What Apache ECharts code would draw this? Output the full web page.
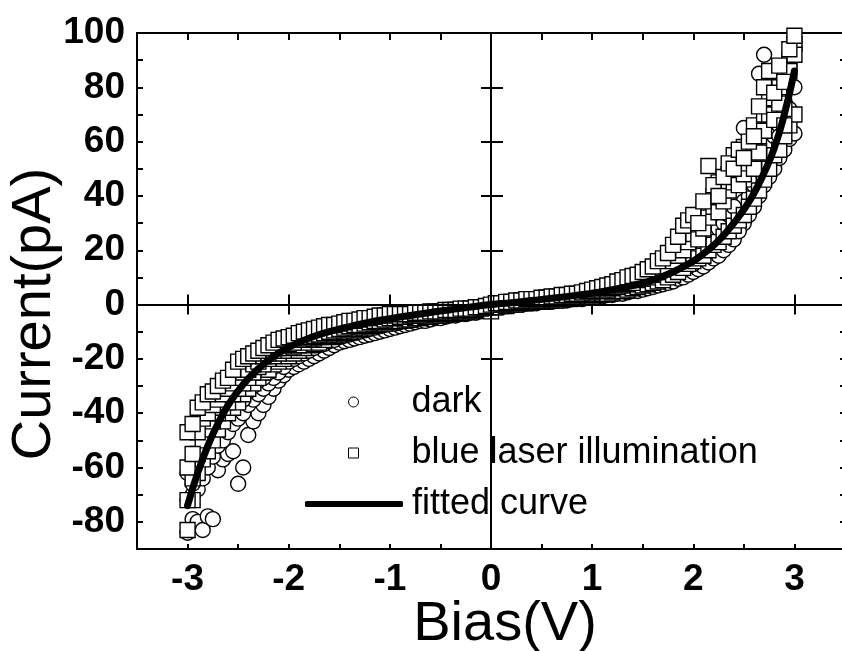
<!DOCTYPE html>
<html>
<head>
<meta charset="utf-8">
<script src="https://cdn.jsdelivr.net/npm/echarts@6/dist/echarts.min.js"></script>
<style>
html,body{margin:0;padding:0;background:#fff;}
#chart{width:842px;height:651px;}
</style>
</head>
<body>
<div id="chart"></div>
<script>
// Bias sweep (V)
const biasV = [-3,-2.95,-2.9,-2.85,-2.8,-2.75,-2.7,-2.65,-2.6,-2.55,-2.5,-2.45,-2.4,-2.35,-2.3,-2.25,-2.2,-2.15,-2.1,-2.05,
-2,-1.95,-1.9,-1.85,-1.8,-1.75,-1.7,-1.65,-1.6,-1.55,-1.5,-1.45,-1.4,-1.35,-1.3,-1.25,-1.2,-1.15,-1.1,-1.05,
-1,-0.95,-0.9,-0.85,-0.8,-0.75,-0.7,-0.65,-0.6,-0.55,-0.5,-0.45,-0.4,-0.35,-0.3,-0.25,-0.2,-0.15,-0.1,-0.05,
0,
0.05,0.1,0.15,0.2,0.25,0.3,0.35,0.4,0.45,0.5,0.55,0.6,0.65,0.7,0.75,0.8,0.85,0.9,0.95,1,
1.05,1.1,1.15,1.2,1.25,1.3,1.35,1.4,1.45,1.5,1.55,1.6,1.65,1.7,1.75,1.8,1.85,1.9,1.95,2,
2.05,2.1,2.15,2.2,2.25,2.3,2.35,2.4,2.45,2.5,2.55,2.6,2.65,2.7,2.75,2.8,2.85,2.9,2.95,3];

// Dark current (pA), three sweeps
const darkSweepA = [-84,-79,-80,-83,-78,-79,-61,-57,-55,-54,-66,-60,-48,-43,-40,-37,-34,-31,-28,-26,
-24,-23,-22,-21,-20,-19,-18,-17,-16,-15,-14,-13.5,-13,-12.5,-12,-11.5,-11,-10.5,-10,-9.5,
-9,-8.5,-8,-7.5,-7,-6.5,-6,-6,-5.5,-5,-5,-4.5,-4,-4,-3.5,-3.5,-3,-3,-2.5,-2,
-2,
-1,-1,-0.5,-0.5,0,0,0.5,0.5,0.5,1,1,1,1.5,1.5,1.5,2,2,2,2.5,2.5,
3,3,3.5,3.5,4,4,4.5,5,5,5.5,6,6.5,7,7.5,8,8.5,9.5,10,11,12,
13,14,15.5,17,18,20,22,24,28,30,33,36,40,44,47,50,54,57,61,63];
const darkSweepB = [-62,-66,-58,-55,-52,-47,-45,-42,-40,-38,-36,-35,-32,-30,-28,-27,-25,-23,-21,-20,
-18,-17,-16,-15,-14,-13.5,-13,-12,-11.5,-10.5,-10,-9.5,-9,-8.5,-8,-7.5,-7,-6.5,-6.5,-6,
-5.5,-5,-5,-4.5,-4.5,-4,-4,-3.5,-3.5,-3,-3,-3,-2.5,-2.5,-2,-2,-1.5,-1.5,-1,-1,
-0.5,
0,0,0.5,0.5,0.5,1,1,1,1.5,1.5,1.5,2,2,2.5,2.5,3,3,3.5,3.5,4,
4,4.5,5,5.5,6,6.5,7,7.5,8,8.5,9,9.5,10.5,11,12,13,14,15.5,17,18.5,
20,22,24,26,28,30,33,36,31,65,46,52,85,92,79,70,62,75,85,95];
const darkSweepC = [-72,-70,-68,-64,-60,-56,-52,-50,-47,-44,-42,-40,-37,-35,-33,-31,-29,-27,-25,-23,
-21,-20,-19,-18,-17,-16,-15,-14.5,-13.5,-13,-12,-11.5,-11,-10.5,-10,-9.5,-9,-8.5,-8,-7.5,
-7,-7,-6.5,-6,-6,-5.5,-5,-5,-4.5,-4.5,-4,-4,-3.5,-3.5,-3,-3,-2.5,-2.5,-2,-1.5,
-1,
-0.5,0,0,0.5,0.5,1,1,1,1.5,1.5,1.5,2,2,2,2.5,2.5,3,3,3,3.5,
3.5,4,4.5,4.5,5,5.5,6,6.5,7,7.5,8,8.5,9,10,10.5,11,12,13,14,15,
17,18,20,22,24,26,29,31,27,38,40,44,48,54,58,62,66,70,72,80];

// Blue laser illumination current (pA), four sweeps
const laserSweepA = [-83,-72,-62,-57,-54,-50,-46,-43,-40,-38,-36,-33,-31,-29,-27,-25,-24,-22,-21,-20,
-19,-18,-17,-16,-15,-14.5,-14,-13,-12,-11.5,-11,-10.5,-10,-9.5,-9,-8.5,-8,-7.5,-7,-7,
-6.5,-6,-6,-5.5,-5.5,-5,-5,-4.5,-4.5,-4,-4,-3.5,-3.5,-3,-3,-2.5,-2.5,-2,-2,-2,
-2.5,
-1,-0.5,-0.5,0,0,0.5,0.5,1,1,1,1.5,1.5,1.5,2,2,2.5,2.5,3,3,3,
3.5,4,4,4.5,5,5,5.5,6,6.5,7,7.5,8,8.5,9,10,11,12,13.5,15,16,
17,18,20,22,23,25,27,29,31,33,36,39,42,46,50,55,57,62,66,70];
const laserSweepB = [-47,-44,-38,-36,-33,-32,-30,-28,-27,-24,-21,-20,-19,-18,-17,-16,-15,-14,-13,-12.5,
-12,-11.5,-10.5,-10,-9.5,-9,-8.5,-8,-7.5,-7.5,-7,-6.5,-6,-6,-5.5,-5,-5,-4.5,-4,-4,
-3.5,-3.5,-3.5,-3.5,-3.5,-3,-3,-3,-2.5,-2.5,-2.5,-2,-2,-2,-1.5,-1.5,-1.5,-1,-1,-0.5,
0,
0.5,0.5,1,1,1.5,1.5,2,2,2,2.5,2.5,3,3,3.5,3.5,4,4,4.5,5,5.5,
6,6.5,7,7.5,8.5,9,10,10.5,11,12,13,14,16,17,19,22,25,29,31,33,
30,38,51,44,40,47,52,50,57,54,60,62,73,80,86,78,88,82,94,99];
const laserSweepC = [-60,-55,-47,-42,-40,-37,-35,-33,-31,-29,-27,-25,-24,-22,-21,-19,-18,-17,-16,-15,
-14.5,-14,-13,-12.5,-12,-11.5,-11,-10.5,-10,-9.5,-9,-8.5,-8,-7.5,-7.5,-7,-6.5,-6,-6,-5.5,
-5,-5,-4.5,-4.5,-4,-4,-4,-3.5,-3.5,-3,-3,-3,-2.5,-2.5,-2,-2,-2,-1.5,-1.5,-1,
-1,
0,0,0.5,0.5,1,1,1,1.5,1.5,2,2,2,2.5,2.5,3,3,3.5,3.5,4,4.5,
5,5,5.5,6,6.5,7,7.5,8,9,9.5,10,11,12,13,14,16,18,20,23,26,
24,28,32,36,34,38,42,45,44,48,52,50,56,64,70,68,74,66,86,92];
const laserSweepD = [-72,-64,-55,-50,-46,-43,-40,-38,-36,-33,-31,-29,-27,-25,-23,-22,-20,-19,-18,-17,
-16,-15.5,-15,-14,-13,-12.5,-12,-11.5,-11,-10.5,-10,-9.5,-9,-8.5,-8,-7.5,-7,-6.5,-6,-6,
-5,-4.5,-4.5,-4,-4,-3.5,-3.5,-3.5,-3,-3,-3,-2.5,-2.5,-2,-2,-2,-1.5,-1.5,-1,-1,
-0.5,
0.5,0.5,0.5,1,1,1.5,1.5,1.5,2,2,2.5,2.5,2.5,3,3,3.5,3.5,4,4.5,5,
5.5,6,6.5,7,7.5,8,8.5,9.5,10,11,11.5,12.5,14,15,16,18,21,24,27,30,
27,33,36,40,45,43,48,55,52,58,56,66,62,70,76,84,80,72,90,96];

// Fitted curve
const fitBias = [-3,-2.9,-2.8,-2.7,-2.6,-2.5,-2.4,-2.3,-2.2,-2.1,-2,-1.8,-1.6,-1.4,-1.2,-1,-0.8,-0.6,-0.4,-0.2,0,
0.2,0.4,0.6,0.8,1,1.2,1.4,1.6,1.8,2,2.1,2.2,2.3,2.4,2.5,2.6,2.7,2.8,2.9,3];
const fitCurrent = [-74,-62,-52,-43.8,-37.1,-31.8,-27.3,-23.6,-20.5,-17.9,-15.7,-12.4,-10,-8.1,-6.5,-5.2,-4,-2.9,-1.9,-0.9,0,
0.7,1.5,2.3,3.2,4.2,5.5,7,9,12,16,18.7,21.8,25.5,30,35,41,48.5,57.5,70,86];

// Tick marks
const xMajorTicks = [-3,-2,-1,0,1,2,3];
const yMajorTicks = [-80,-60,-40,-20,0,20,40,60,80,100];

const FONT = 'Liberation Sans, Arial, sans-serif';
function pairs(xs, ys){ return xs.map(function(x,i){ return [x, ys[i]]; }); }

const chart = echarts.init(document.getElementById('chart'), null, {renderer:'canvas'});

const xBase = {type:'value', min:-3.5, max:3.5, interval:0.5, splitLine:{show:false}};
const yBase = {type:'value', min:-90, max:100, interval:10, splitLine:{show:false}};
const axLine = {show:true, onZero:false, lineStyle:{color:'#000', width:2}};
const tickStyle = {color:'#000', width:2};
const legendText = {fontSize:36, color:'#000', fontFamily:FONT};

const option = {
  animation:false,
  backgroundColor:'#fff',
  grid:{left:137, top:33, width:708, height:516, containLabel:false, outerBoundsMode:'none'},
  xAxis:[
    Object.assign({}, xBase, {
      position:'bottom',
      axisLine:axLine,
      axisTick:{show:true, inside:true, length:5, lineStyle:tickStyle},
      axisLabel:{show:true, margin:12, fontSize:37, fontWeight:'bold', color:'#000', fontFamily:FONT,
        formatter:function(v){ return Number.isInteger(v) ? String(v) : ''; }},
      name:'Bias(V)', nameLocation:'middle', nameGap:48, nameMoveOverlap:false,
      nameTextStyle:{fontSize:56, color:'#000', fontFamily:FONT, padding:[0,0,0,28]}
    }),
    Object.assign({}, xBase, {
      position:'bottom',
      axisLine:{show:false},
      axisTick:{show:true, inside:true, length:10, lineStyle:tickStyle, customValues:xMajorTicks},
      axisLabel:{show:false}
    }),
    Object.assign({}, xBase, {
      position:'top',
      axisLine:axLine,
      axisTick:{show:true, inside:true, length:7, lineStyle:tickStyle},
      axisLabel:{show:false}
    }),
    Object.assign({}, xBase, {
      position:'top',
      axisLine:{show:false},
      axisTick:{show:true, inside:true, length:10, lineStyle:tickStyle, customValues:xMajorTicks},
      axisLabel:{show:false}
    })
  ],
  yAxis:[
    Object.assign({}, yBase, {
      position:'left',
      axisLine:axLine,
      axisTick:{show:true, inside:true, length:6, lineStyle:tickStyle},
      axisLabel:{show:true, margin:12, fontSize:37, fontWeight:'bold', color:'#000', fontFamily:FONT,
        formatter:function(v){ return (Math.round(v) % 20 === 0) ? String(Math.round(v)) : ''; }},
      name:'Current(pA)', nameLocation:'middle', nameGap:74, nameMoveOverlap:false,
      nameTextStyle:{fontSize:56, color:'#000', fontFamily:FONT, padding:[0,46,0,0]}
    }),
    Object.assign({}, yBase, {
      position:'left',
      axisLine:{show:false},
      axisTick:{show:true, inside:true, length:12, lineStyle:tickStyle, customValues:yMajorTicks},
      axisLabel:{show:false}
    }),
    Object.assign({}, yBase, {
      position:'right',
      axisLine:axLine,
      axisTick:{show:true, inside:true, length:5, lineStyle:tickStyle},
      axisLabel:{show:false}
    }),
    Object.assign({}, yBase, {
      position:'right',
      axisLine:{show:false},
      axisTick:{show:true, inside:true, length:10, lineStyle:tickStyle, customValues:yMajorTicks},
      axisLabel:{show:false}
    })
  ],
  legend:[
    {data:['dark'], left:344, top:371, orient:'vertical', selectedMode:false,
     backgroundColor:'#fff', padding:[13,330,6,4],
     itemWidth:10, itemHeight:10, icon:'circle',
     itemStyle:{color:'#fff', borderColor:'#000', borderWidth:1},
     textStyle:Object.assign({padding:[0,0,0,48]}, legendText)},
    {data:['blue laser illumination'], left:344, top:422, orient:'vertical', selectedMode:false,
     backgroundColor:'#fff', padding:[13,4,6,4],
     itemWidth:10, itemHeight:10, icon:'rect',
     itemStyle:{color:'#fff', borderColor:'#000', borderWidth:1},
     textStyle:Object.assign({padding:[0,0,0,48]}, legendText)},
    {data:['fitted curve'], left:301, top:474, orient:'vertical', selectedMode:false,
     backgroundColor:'#fff', padding:[12,4,8,4],
     itemWidth:98, itemHeight:6, icon:'roundRect',
     itemStyle:{color:'#000', borderWidth:0},
     lineStyle:{width:0},
     textStyle:Object.assign({padding:[0,0,0,4]}, legendText)}
  ],
  series:[
    {type:'scatter', name:'zero', xAxisIndex:0, yAxisIndex:0, z:1, silent:true,
     data:[[0,0]], symbolSize:0,
     markLine:{silent:true, symbol:['none','none'], animation:false,
       label:{show:false},
       lineStyle:{color:'#000', width:2, type:'solid'},
       emphasis:{disabled:true},
       data:[{xAxis:0},{yAxis:0}]}},
    {type:'scatter', name:'dark', xAxisIndex:0, yAxisIndex:0, z:2,
     symbol:'circle', symbolSize:15,
     itemStyle:{color:'#fff', borderColor:'#000', borderWidth:1.4, opacity:1},
     data:pairs(biasV, darkSweepA).concat(pairs(biasV, darkSweepC), pairs(biasV, darkSweepB))},
    {type:'scatter', name:'blue laser illumination', xAxisIndex:0, yAxisIndex:0, z:3,
     symbol:'rect', symbolSize:15,
     itemStyle:{color:'#fff', borderColor:'#000', borderWidth:1.4, opacity:1},
     data:pairs(biasV, laserSweepA).concat(pairs(biasV, laserSweepD), pairs(biasV, laserSweepC), pairs(biasV, laserSweepB))},
    {type:'line', name:'fitted curve', xAxisIndex:0, yAxisIndex:0, z:4,
     smooth:true, symbol:'none', showSymbol:false,
     lineStyle:{color:'#000', width:7, cap:'round'},
     itemStyle:{color:'#000'},
     data:pairs(fitBias, fitCurrent)}
  ]
};
chart.setOption(option);
</script>
</body>
</html>
